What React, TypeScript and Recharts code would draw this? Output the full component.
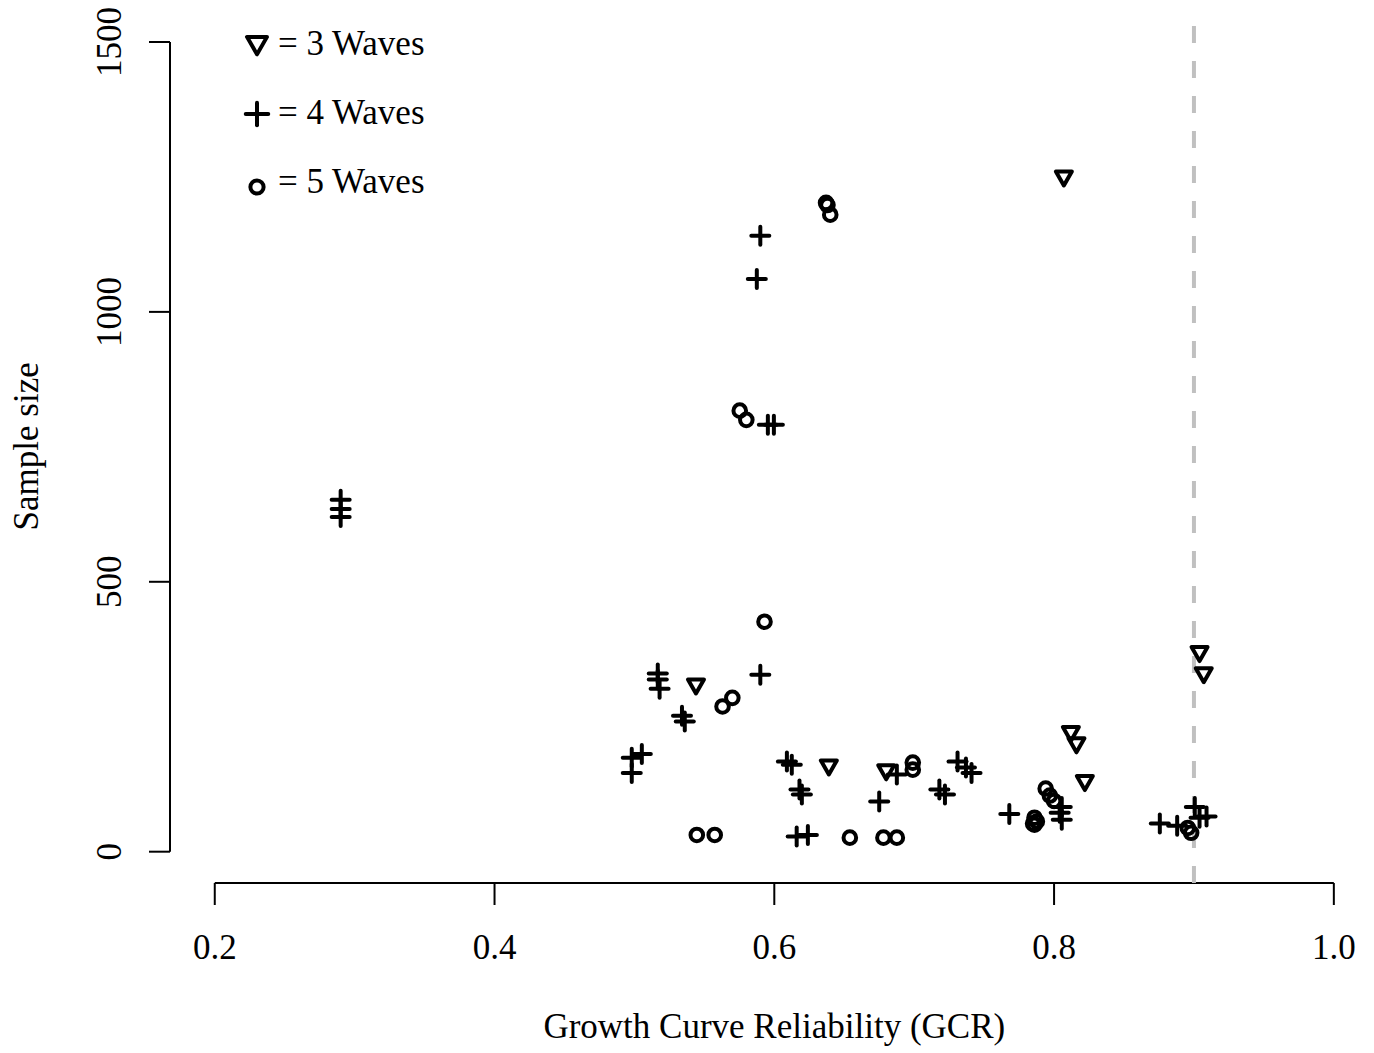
import { ScatterChart, Scatter, XAxis, YAxis, ReferenceLine } from 'recharts';

// GCR (x) and sample size (y) for each number of waves
const WAVES3_GCR = [0.807, 0.544, 0.639, 0.68, 0.904, 0.907, 0.812, 0.816, 0.822];
const WAVES3_N = [1248, 307, 157, 148, 367, 328, 219, 198, 128];

const WAVES4_GCR = [
    0.29, 0.29, 0.29, 0.59, 0.5875, 0.5954, 0.5997, 0.59, 0.5167, 0.5167, 0.518,
    0.534, 0.536, 0.5053, 0.4981, 0.4981, 0.609, 0.6125, 0.618, 0.6197, 0.616, 0.624,
    0.675, 0.6876, 0.718, 0.722, 0.731, 0.737, 0.741, 0.768, 0.8055, 0.804, 0.8055,
    0.8756, 0.888, 0.9006, 0.904, 0.909,
];
const WAVES4_N = [
    652, 635, 620, 1141, 1061, 791, 791, 328, 330, 319, 302,
    252, 241, 181, 174, 146, 167, 161, 115, 106, 28, 31,
    93, 143, 115, 106, 167, 156, 146, 70, 83, 72, 59,
    52, 48, 83, 63, 65,
];

const WAVES5_GCR = [
    0.637, 0.638, 0.64, 0.5753, 0.58, 0.593, 0.563, 0.57, 0.5446, 0.5574, 0.654,
    0.678, 0.6876, 0.699, 0.699, 0.794, 0.797, 0.8, 0.786, 0.7877, 0.786, 0.785,
    0.8956, 0.898,
];
const WAVES5_N = [
    1202, 1198, 1180, 817, 800, 426, 269, 285, 31, 31, 26,
    26, 26, 165, 152, 117, 104, 94, 63, 56, 50, 52,
    44, 35,
];

const X_TICKS = [0.2, 0.4, 0.6, 0.8, 1.0];
const Y_TICKS = [0, 500, 1000, 1500];
const CUTOFF = 0.9;

const FONT = '"Liberation Serif", "Times New Roman", serif';
const FS = 35;

type Kind = 'tri' | 'plus' | 'circle';

const SERIES: { name: string; kind: Kind; gcr: number[]; n: number[] }[] = [
    { name: '= 3 Waves', kind: 'tri', gcr: WAVES3_GCR, n: WAVES3_N },
    { name: '= 4 Waves', kind: 'plus', gcr: WAVES4_GCR, n: WAVES4_N },
    { name: '= 5 Waves', kind: 'circle', gcr: WAVES5_GCR, n: WAVES5_N },
];

function Marker({ kind, cx, cy, s = 1 }: { kind: Kind; cx: number; cy: number; s?: number }) {
    if (kind === 'tri') {
        const pts = `${cx - 8 * s},${cy - 6.5 * s} ${cx + 8 * s},${cy - 6.5 * s} ${cx},${cy + 7.5 * s}`;
        return <polygon points={pts} fill="none" stroke="#000" strokeWidth={4} strokeLinejoin="round" />;
    }
    if (kind === 'plus') {
        const h = 9 * s;
        return (
            <g stroke="#000" strokeWidth={4} strokeLinecap="round">
                <line x1={cx - h} y1={cy} x2={cx + h} y2={cy} />
                <line x1={cx} y1={cy - h} x2={cx} y2={cy + h} />
            </g>
        );
    }
    return <circle cx={cx} cy={cy} r={6.3 * s} fill="none" stroke="#000" strokeWidth={4} />;
}

const XTick = ({ x, y, payload }: any) => (
    <text x={x} y={y + 54} textAnchor="middle" fontSize={FS} fontFamily={FONT} fill="#000">
        {payload.value.toFixed(1)}
    </text>
);

const YTick = ({ x, y, payload }: any) => (
    <text
        x={x - 28}
        y={y}
        transform={`rotate(-90, ${x - 28}, ${y})`}
        textAnchor="middle"
        fontSize={FS}
        fontFamily={FONT}
        fill="#000"
    >
        {payload.value}
    </text>
);

export default function App() {
    const data = SERIES.map((s) => s.gcr.map((g, i) => ({ gcr: g, n: s.n[i] })));

    return (
        <div style={{ position: 'absolute', left: 0, top: 0, width: 1374, height: 1053, overflow: 'hidden', background: '#fff' }}>
            <ScatterChart width={1380} height={1053} margin={{ top: 9.6, right: 1.4, left: 0, bottom: 0 }}>
                <XAxis
                    type="number"
                    dataKey="gcr"
                    domain={[0.168, 1.032]}
                    ticks={X_TICKS}
                    height={170}
                    axisLine={false}
                    tickLine={{ stroke: '#000', strokeWidth: 2 }}
                    tickSize={22}
                    tickMargin={0}
                    tick={<XTick />}
                    label={{
                        content: ({ viewBox }: any) => (
                            <text
                                x={viewBox.x + viewBox.width / 2}
                                y={1038}
                                textAnchor="middle"
                                fontSize={FS}
                                fontFamily={FONT}
                                fill="#000"
                            >
                                Growth Curve Reliability (GCR)
                            </text>
                        ),
                    }}
                />
                <YAxis
                    type="number"
                    dataKey="n"
                    domain={[-58, 1560]}
                    ticks={Y_TICKS}
                    width={170}
                    axisLine={false}
                    tickLine={{ stroke: '#000', strokeWidth: 2 }}
                    tickSize={21}
                    tickMargin={0}
                    tick={<YTick />}
                    label={{
                        content: ({ viewBox }: any) => {
                            const cy = viewBox.y + viewBox.height / 2;
                            return (
                                <text
                                    x={38}
                                    y={cy}
                                    transform={`rotate(-90, 38, ${cy})`}
                                    textAnchor="middle"
                                    fontSize={FS}
                                    fontFamily={FONT}
                                    fill="#000"
                                >
                                    Sample size
                                </text>
                            );
                        },
                    }}
                />
                {/* R-style axis lines that stop at the outer ticks */}
                <ReferenceLine
                    segment={[{ x: X_TICKS[0], y: -58 }, { x: X_TICKS[X_TICKS.length - 1], y: -58 }]}
                    stroke="#000"
                    strokeWidth={2}
                    ifOverflow="visible"
                />
                <ReferenceLine
                    segment={[{ x: 0.168, y: Y_TICKS[0] }, { x: 0.168, y: Y_TICKS[Y_TICKS.length - 1] }]}
                    stroke="#000"
                    strokeWidth={2}
                    ifOverflow="visible"
                />
                <ReferenceLine
                    segment={[{ x: CUTOFF, y: -58 }, { x: CUTOFF, y: 1560 }]}
                    stroke="#c0c0c0"
                    strokeWidth={4}
                    strokeDasharray="17 18"
                    ifOverflow="visible"
                />
                {SERIES.map((s, i) => (
                    <Scatter
                        key={s.name}
                        name={s.name}
                        data={data[i]}
                        isAnimationActive={false}
                        shape={(p: any) => <Marker kind={s.kind} cx={p.cx} cy={p.cy} />}
                    />
                ))}
            </ScatterChart>

            {/* legend, top left inside the plot */}
            <svg width={480} height={220} style={{ position: 'absolute', left: 0, top: 0 }}>
                {SERIES.map((s, i) => {
                    const base = 55 + i * 69;
                    const cy = s.kind === 'circle' ? base - 6 : base - 10;
                    return (
                        <g key={s.name}>
                            <Marker kind={s.kind} cx={257} cy={cy} s={s.kind === 'circle' ? 1.05 : 1.25} />
                            <text x={278} y={base} fontSize={FS} fontFamily={FONT} fill="#000">
                                {s.name}
                            </text>
                        </g>
                    );
                })}
            </svg>
        </div>
    );
}
